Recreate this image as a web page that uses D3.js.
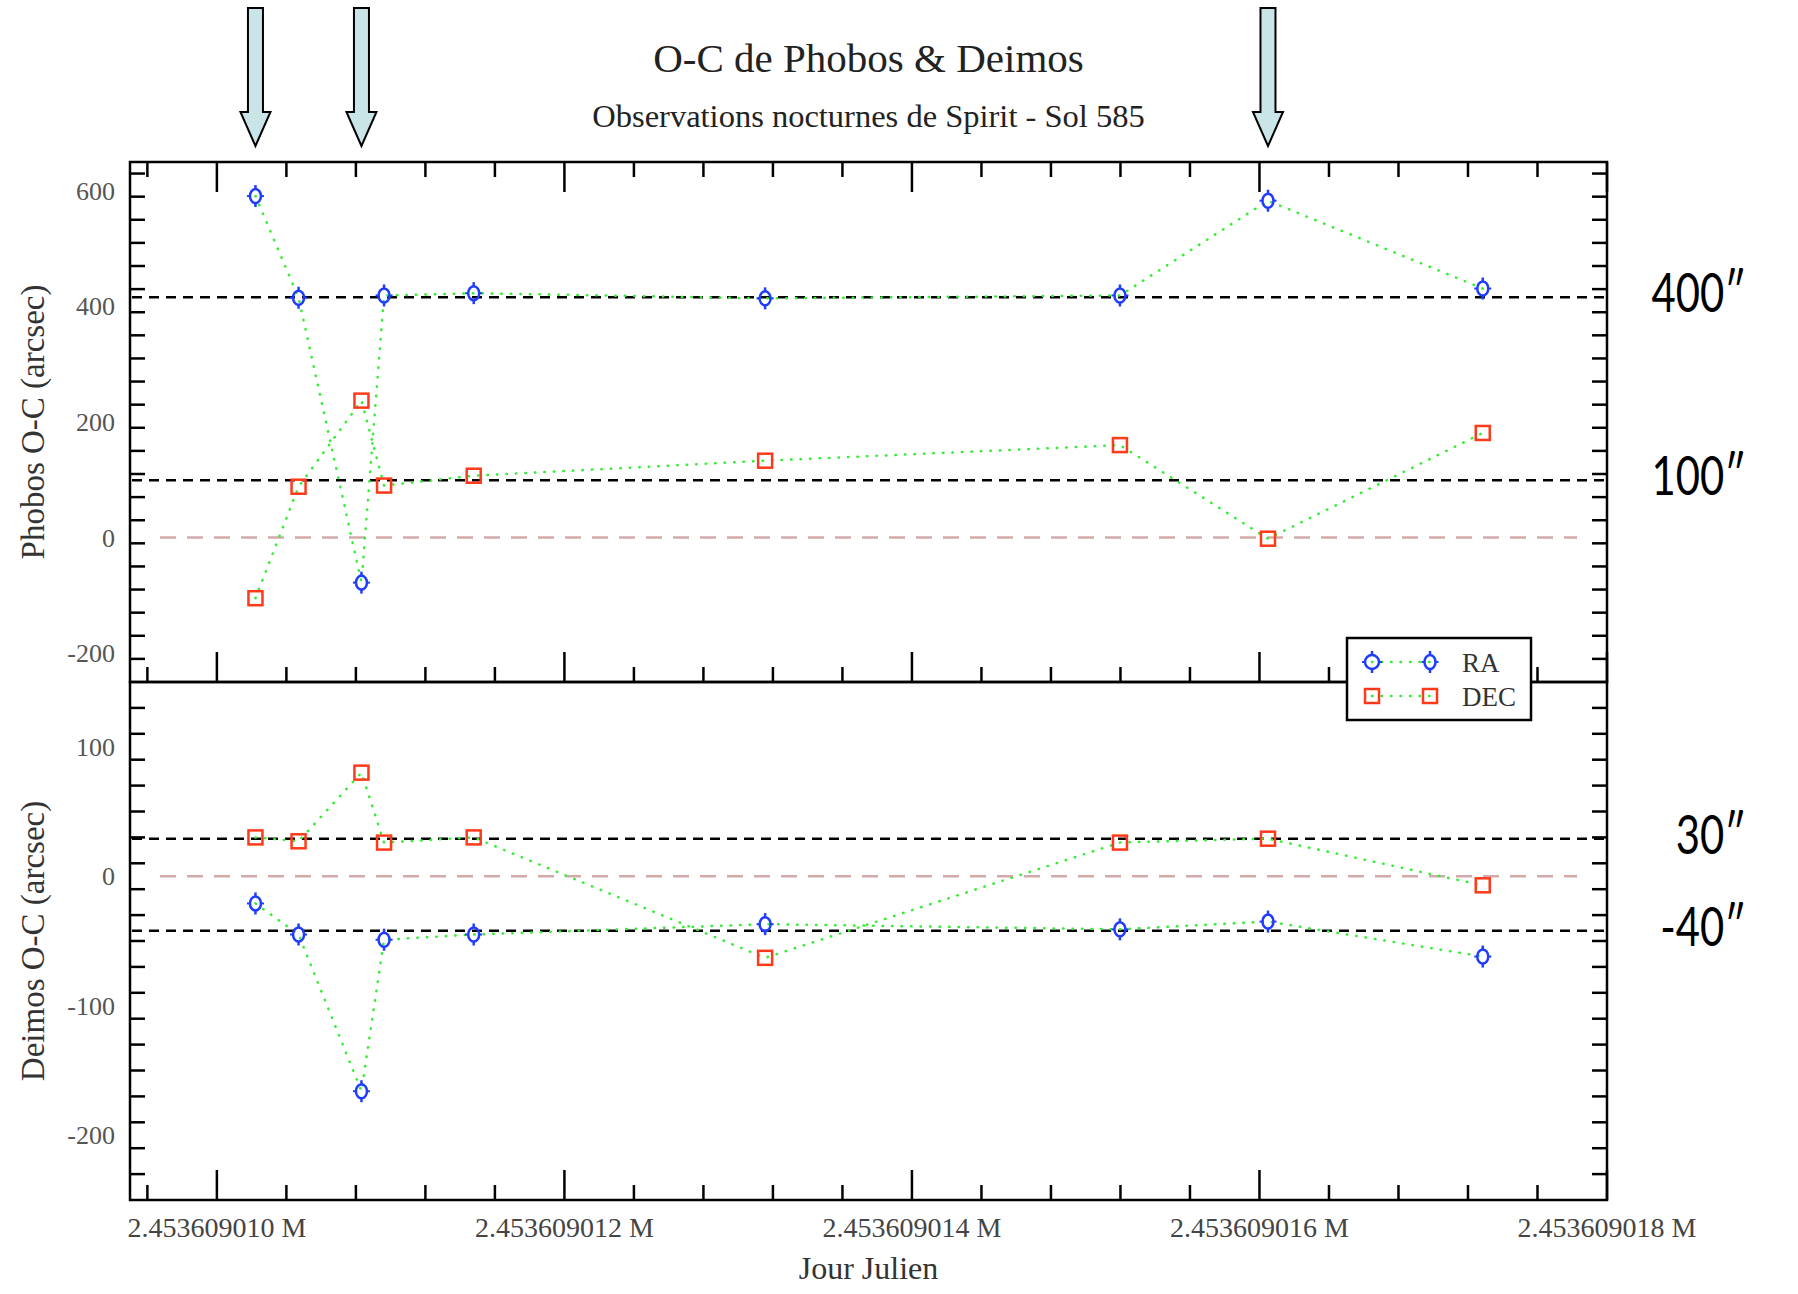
<!DOCTYPE html>
<html>
<head>
<meta charset="utf-8">
<script src="https://cdnjs.cloudflare.com/ajax/libs/d3/7.8.5/d3.min.js"></script>
<style>
  body { margin: 0; background: #fff; }
  text { font-family: "Liberation Serif", "Times New Roman", serif; }
</style>
</head>
<body>
<svg id="chart"></svg>
<script>

// Julian days of the 9 observations
var jourJulien = [2453609.010222, 2453609.010470, 2453609.010832, 2453609.010962, 2453609.011478,
                  2453609.013155, 2453609.015197, 2453609.016049, 2453609.017285];

// Phobos O-C (arcsec)
var phobosRA  = [591, 415, -78, 419, 423, 414, 419, 583, 431];
var phobosDEC = [-105, 88, 237, 90, 107, 133, 160, -2, 181];

// Deimos O-C (arcsec)
var deimosRA  = [-21, -45, -166, -49, -45, -37, -41, -35, -62];
var deimosDEC = [30, 27, 80, 26, 30, -63, 26, 29, -7];

// reference lines and their notes
var phobosRefLines = [416, 99];
var phobosRefLabels = ["400\u2033", "100\u2033"];
var deimosRefLines = [29, -42];
var deimosRefLabels = ["30\u2033", "-40\u2033"];

// observations pointed at by the arrows
var arrowIndex = [0, 2, 7];

// x axis
var xDomain = [2453609.0095, 2453609.018];
var xMajorTicks = [2453609.010, 2453609.012, 2453609.014, 2453609.016, 2453609.018];
var xTickLabels = ["2.453609010 M", "2.453609012 M", "2.453609014 M", "2.453609016 M", "2.453609018 M"];

// y axes
var phobosDomain = [-250, 650];
var phobosMajor = [-200, 0, 200, 400, 600];
var deimosDomain = [-250, 150];
var deimosMajor = [-200, -100, 0, 100];

var seriesNames = ["RA", "DEC"];

var W = 1798, H = 1294;
var left = 130, right = 1607;
var topPanel = [162, 682], bottomPanel = [682, 1200];

var svg = d3.select("#chart").attr("width", W).attr("height", H);

var x = d3.scaleLinear().domain(xDomain).range([left, right]);
var yP = d3.scaleLinear().domain(phobosDomain).range([topPanel[1], topPanel[0]]);
var yD = d3.scaleLinear().domain(deimosDomain).range([bottomPanel[1], bottomPanel[0]]);

// minor ticks every 0.0004 day
var xMinor = d3.range(24, 46).map(function(i) { return 2453609 + i * 0.0004; });

var green = "#33ee33", blue = "#1f3cff", red = "#ff3a1a";

function drawPanel(y, major, minorStep, domain, topTicks, refLines, refLabels, ra, dec, title) {
    var g = svg.append("g");

    // zero line
    g.append("line")
        .attr("x1", left + 30).attr("x2", right - 30)
        .attr("y1", y(0)).attr("y2", y(0))
        .attr("stroke", "#d2aaaa").attr("stroke-width", 2.5)
        .attr("stroke-dasharray", "16,11");

    // black dashed reference lines
    refLines.forEach(function(v, i) {
        g.append("line")
            .attr("x1", left + 2).attr("x2", right)
            .attr("y1", y(v)).attr("y2", y(v))
            .attr("stroke", "#000").attr("stroke-width", 2.5)
            .attr("stroke-dasharray", "10,7");
        svg.append("text")
            .attr("transform", "translate(1746," + (y(v) + 15) + ") scale(0.76,1)")
            .attr("text-anchor", "end")
            .style("font-family", "Lato, 'DejaVu Sans', sans-serif")
            .style("font-size", "55px")
            .attr("fill", "#000")
            .text(refLabels[i]);
    });

    // dotted lines
    var line = d3.line()
        .x(function(d, i) { return x(jourJulien[i]); })
        .y(function(d) { return y(d); });
    [ra, dec].forEach(function(s) {
        g.append("path")
            .datum(s)
            .attr("d", line)
            .attr("fill", "none")
            .attr("stroke", green).attr("stroke-width", 2.5)
            .attr("stroke-linecap", "round")
            .attr("stroke-dasharray", "0.5,9");
    });

    // markers
    ra.forEach(function(v, i) { circleMarker(g, x(jourJulien[i]), y(v), false); });
    dec.forEach(function(v, i) { squareMarker(g, x(jourJulien[i]), y(v)); });

    // frame
    g.append("rect")
        .attr("x", left).attr("y", y.range()[1])
        .attr("width", right - left).attr("height", y.range()[0] - y.range()[1])
        .attr("fill", "none").attr("stroke", "#000").attr("stroke-width", 2.5);

    // y ticks on both sides
    var yMinor = d3.range(domain[0], domain[1] + 1, minorStep).filter(function(v) { return v > domain[0] && v < domain[1]; });
    yMinor.forEach(function(v) {
        var len = major.indexOf(v) >= 0 ? 30 : 15;
        g.append("line").attr("x1", left).attr("x2", left + len)
            .attr("y1", y(v)).attr("y2", y(v)).attr("stroke", "#000").attr("stroke-width", 2.5);
        g.append("line").attr("x1", right).attr("x2", right - len)
            .attr("y1", y(v)).attr("y2", y(v)).attr("stroke", "#000").attr("stroke-width", 2.5);
    });
    major.forEach(function(v) {
        g.append("text")
            .attr("x", left - 15).attr("y", y(v) + 9)
            .attr("text-anchor", "end")
            .attr("fill", "#555")
            .style("font-size", "26px")
            .text(v);
    });

    // x ticks: bottom always, top only for the upper panel
    var ends = [y.range()[0]];
    if (topTicks) ends.push(y.range()[1]);
    ends.forEach(function(yy, k) {
        var dir = k == 0 ? -1 : 1;
        xMinor.forEach(function(t, i) {
            var len = (i - 1) % 5 == 0 ? 30 : 15;
            g.append("line").attr("x1", x(t)).attr("x2", x(t))
                .attr("y1", yy).attr("y2", yy + dir * len)
                .attr("stroke", "#000").attr("stroke-width", 2.5);
        });
    });

    // y axis title
    g.append("text")
        .attr("transform", "translate(44," + ((y.range()[0] + y.range()[1]) / 2) + ") rotate(-90)")
        .attr("text-anchor", "middle")
        .attr("fill", "#333")
        .style("font-size", "33px")
        .text(title);
}

function circleMarker(g, cx, cy, full) {
    var m = g.append("g").attr("stroke", blue).attr("stroke-width", 2.5).attr("fill", "none");
    var rx = full ? 7 : 5.5, ry = 7;
    m.append("ellipse").attr("cx", cx).attr("cy", cy).attr("rx", rx).attr("ry", ry);
    // small error bar stubs
    m.append("line").attr("x1", cx).attr("x2", cx).attr("y1", cy - ry - 4).attr("y2", cy - ry);
    m.append("line").attr("x1", cx).attr("x2", cx).attr("y1", cy + ry).attr("y2", cy + ry + 4);
    m.append("line").attr("x1", cx - rx - 3).attr("x2", cx - rx).attr("y1", cy).attr("y2", cy).attr("stroke-width", 2);
    m.append("line").attr("x1", cx + rx).attr("x2", cx + rx + 3).attr("y1", cy).attr("y2", cy).attr("stroke-width", 2);
}

function squareMarker(g, cx, cy) {
    g.append("rect")
        .attr("x", cx - 7).attr("y", cy - 7)
        .attr("width", 14).attr("height", 14)
        .attr("fill", "none").attr("stroke", red).attr("stroke-width", 2.5);
}

drawPanel(yP, phobosMajor, 40, phobosDomain, true, phobosRefLines, phobosRefLabels,
          phobosRA, phobosDEC, "Phobos O-C (arcsec)");
drawPanel(yD, deimosMajor, 20, deimosDomain, false, deimosRefLines, deimosRefLabels,
          deimosRA, deimosDEC, "Deimos O-C (arcsec)");

// x tick labels
xMajorTicks.forEach(function(t, i) {
    svg.append("text")
        .attr("x", x(t)).attr("y", 1237)
        .attr("text-anchor", "middle")
        .attr("fill", "#444")
        .style("font-size", "28px")
        .text(xTickLabels[i]);
});

// x axis title
svg.append("text")
    .attr("x", (left + right) / 2).attr("y", 1279)
    .attr("text-anchor", "middle")
    .attr("fill", "#333")
    .style("font-size", "32px")
    .text("Jour Julien");

// titles
svg.append("text")
    .attr("x", (left + right) / 2).attr("y", 72)
    .attr("text-anchor", "middle")
    .attr("fill", "#222")
    .style("font-size", "41px")
    .text("O-C de Phobos & Deimos");
svg.append("text")
    .attr("x", (left + right) / 2).attr("y", 127)
    .attr("text-anchor", "middle")
    .attr("fill", "#222")
    .style("font-size", "32.5px")
    .text("Observations nocturnes de Spirit - Sol 585");

// arrows over the outliers
arrowIndex.forEach(function(i) {
    var cx = x(jourJulien[i]);
    var pts = [[cx - 7.5, 8], [cx + 7.5, 8], [cx + 7.5, 112], [cx + 15, 112],
               [cx, 146], [cx - 15, 112], [cx - 7.5, 112]];
    svg.append("path")
        .attr("d", d3.line()(pts) + "Z")
        .attr("fill", "#c9e5e8")
        .attr("stroke", "#000").attr("stroke-width", 2);
});

// legend
var lg = svg.append("g");
lg.append("rect")
    .attr("x", 1347).attr("y", 638).attr("width", 184).attr("height", 82)
    .attr("fill", "#fff").attr("stroke", "#000").attr("stroke-width", 2.5);
seriesNames.forEach(function(name, k) {
    var ly = 662 + k * 34;
    lg.append("line")
        .attr("x1", 1372).attr("x2", 1430).attr("y1", ly).attr("y2", ly)
        .attr("stroke", green).attr("stroke-width", 2.5)
        .attr("stroke-linecap", "round").attr("stroke-dasharray", "0.5,9");
    if (k == 0) {
        circleMarker(lg, 1372, ly, true);
        circleMarker(lg, 1430, ly, false);
    } else {
        squareMarker(lg, 1372, ly);
        squareMarker(lg, 1430, ly);
    }
    lg.append("text")
        .attr("x", 1462).attr("y", ly + 10)
        .attr("fill", "#333")
        .style("font-size", "27px")
        .text(name);
});

</script>
</body>
</html>
